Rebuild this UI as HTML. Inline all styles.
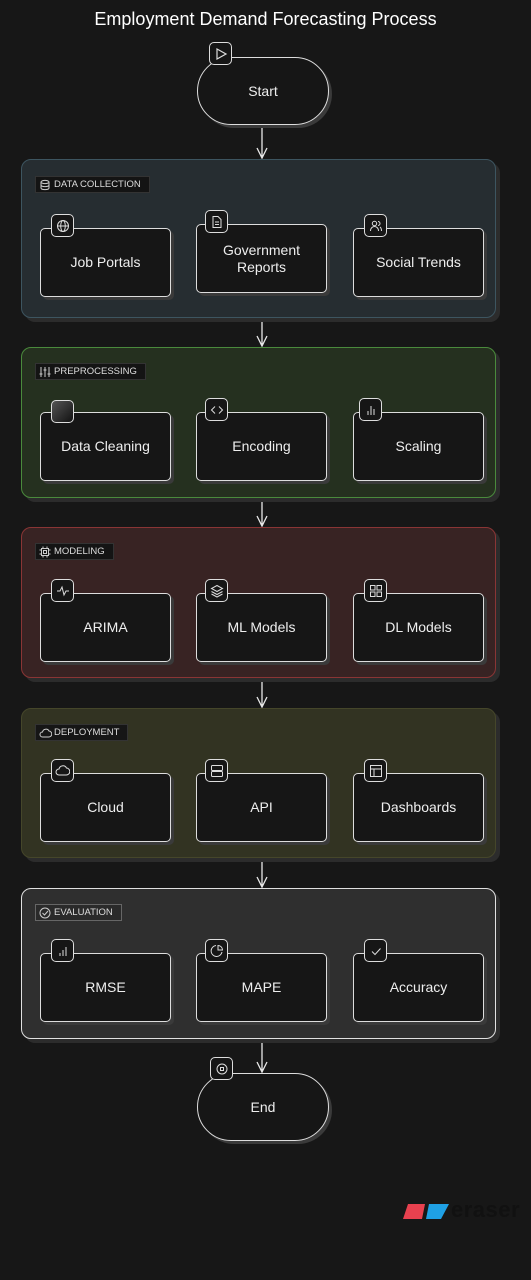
<!DOCTYPE html>
<html><head><meta charset="utf-8"><style>
*{box-sizing:border-box;margin:0;padding:0}
body{width:531px;height:1280px;background:#171717;position:relative;overflow:hidden;font-family:"Liberation Sans",sans-serif;color:#eee}
.t{position:absolute;left:0;width:531px;top:9px;text-align:center;font-size:18px;color:#fff}
.g{position:absolute;left:21px;width:475px;border-radius:10px;border:1px solid;box-shadow:4px 4px 0 #2c2c2c}
.tag{position:absolute;left:13px;top:16px;height:17px;font-size:9.5px;line-height:16px;padding:0 8px 0 18px;background:#141414;color:#ddd;border:1px solid #333}
.tag svg{position:absolute;left:3px;top:2px}
.n{position:absolute;width:131px;height:69px;border:1.5px solid #ddd;border-radius:5px;background:#161616;box-shadow:3px 3px 0 #3a3a3a;display:flex;align-items:center;justify-content:center;text-align:center;font-size:14px;color:#eee;line-height:17px}
.ic{position:absolute;width:23px;height:23px;border:1.5px solid #ddd;border-radius:5px;background:#161616;display:flex;align-items:center;justify-content:center}
.p{position:absolute;left:197px;width:132px;height:68px;border:1.5px solid #ddd;border-radius:34px;background:#161616;box-shadow:3px 3px 0 #3a3a3a;display:flex;align-items:center;justify-content:center;font-size:14px}
</style></head><body>
<div class="t">Employment Demand Forecasting Process</div>

<svg width="531" height="1280" style="position:absolute;left:0;top:0" fill="none" stroke="#e8e8e8" stroke-width="1.3">
<path d="M262 126V158M257 148L262 158L267 148"/>
<path d="M262 318V346M257 336L262 346L267 336"/>
<path d="M262 498V526M257 516L262 526L267 516"/>
<path d="M262 678V707M257 697L262 707L267 697"/>
<path d="M262 858V887M257 877L262 887L267 877"/>
<path d="M262 1039V1072M257 1062L262 1072L267 1062"/>
</svg>

<!-- Start -->
<div class="p" style="top:57px">Start</div>
<div class="ic" style="left:209px;top:42px"><svg width="14" height="14" viewBox="0 0 14 14" fill="none" stroke="#ddd" stroke-width="1.2"><path d="M3 2L12 7L3 12Z"/></svg></div>

<!-- Data collection -->
<div class="g" style="top:159px;height:159px;background:#262d31;border-color:#3d5560">
<div class="tag" style="top:16px"><svg width="12" height="12" viewBox="0 0 12 12" fill="none" stroke="#ccc"><ellipse cx="6" cy="3" rx="4" ry="1.6"/><path d="M2 3v6c0 1 2 1.6 4 1.6s4-.6 4-1.6V3M2 6c0 1 2 1.6 4 1.6s4-.6 4-1.6"/></svg>DATA COLLECTION</div>
</div>
<div class="n" style="left:40px;top:228px">Job Portals</div>
<div class="ic" style="left:51px;top:214px"><svg width="14" height="14" viewBox="0 0 14 14" fill="none" stroke="#ddd"><circle cx="7" cy="7" r="5.5"/><ellipse cx="7" cy="7" rx="2.3" ry="5.5"/><path d="M1.5 7h11"/></svg></div>
<div class="n" style="left:196px;top:224px">Government<br>Reports</div>
<div class="ic" style="left:205px;top:210px"><svg width="14" height="14" viewBox="0 0 14 14" fill="none" stroke="#ddd"><path d="M3 1.5h5l3 3v8H3z M5 7h4M5 9.5h4"/></svg></div>
<div class="n" style="left:353px;top:228px">Social Trends</div>
<div class="ic" style="left:364px;top:214px"><svg width="14" height="14" viewBox="0 0 14 14" fill="none" stroke="#ddd"><circle cx="5.5" cy="4.5" r="2.2"/><path d="M1.5 12c0-3 2-4.5 4-4.5s4 1.5 4 4.5M9 2.5a2 2 0 010 4M11 8c1 .8 1.5 2 1.5 4"/></svg></div>

<!-- Preprocessing -->
<div class="g" style="top:347px;height:151px;background:#25301f;border-color:#4a8a3c">
<div class="tag" style="top:15px"><svg width="12" height="12" viewBox="0 0 12 12" fill="none" stroke="#ccc"><path d="M2 1v10M6 1v10M10 1v10M0.5 8h3M4.5 4h3M8.5 8h3"/></svg>PREPROCESSING</div>
</div>
<div class="n" style="left:40px;top:412px">Data Cleaning</div>
<div class="ic" style="left:51px;top:400px;background:linear-gradient(135deg,#555,#111)"></div>
<div class="n" style="left:196px;top:412px">Encoding</div>
<div class="ic" style="left:205px;top:398px"><svg width="14" height="14" viewBox="0 0 14 14" fill="none" stroke="#ddd"><path d="M5 3.5L1.5 7L5 10.5M9 3.5L12.5 7L9 10.5"/></svg></div>
<div class="n" style="left:353px;top:412px">Scaling</div>
<div class="ic" style="left:359px;top:398px"><svg width="14" height="14" viewBox="0 0 14 14" fill="none" stroke="#ddd"><path d="M4 12V8M7 12V3M10 12V6"/></svg></div>

<!-- Modeling -->
<div class="g" style="top:527px;height:151px;background:#382323;border-color:#8a3535">
<div class="tag" style="top:15px"><svg width="12" height="12" viewBox="0 0 12 12" fill="none" stroke="#ccc"><rect x="2.5" y="2.5" width="7" height="7"/><rect x="4.5" y="4.5" width="3" height="3"/><path d="M4 0.5v2M8 0.5v2M4 9.5v2M8 9.5v2M0.5 4h2M0.5 8h2M9.5 4h2M9.5 8h2"/></svg>MODELING</div>
</div>
<div class="n" style="left:40px;top:593px">ARIMA</div>
<div class="ic" style="left:51px;top:579px"><svg width="14" height="14" viewBox="0 0 14 14" fill="none" stroke="#ddd"><path d="M1 7h3l2-4 2 8 2-4h3"/></svg></div>
<div class="n" style="left:196px;top:593px">ML Models</div>
<div class="ic" style="left:205px;top:579px"><svg width="14" height="14" viewBox="0 0 14 14" fill="none" stroke="#ddd"><path d="M7 1.5L12.5 4.5L7 7.5L1.5 4.5Z M1.5 7.5L7 10.5L12.5 7.5M1.5 10L7 13L12.5 10"/></svg></div>
<div class="n" style="left:353px;top:593px">DL Models</div>
<div class="ic" style="left:364px;top:579px"><svg width="14" height="14" viewBox="0 0 14 14" fill="none" stroke="#ddd"><rect x="1.5" y="1.5" width="4.5" height="4.5"/><rect x="8" y="1.5" width="4.5" height="4.5"/><rect x="1.5" y="8" width="4.5" height="4.5"/><rect x="8" y="8" width="4.5" height="4.5"/></svg></div>

<!-- Deployment -->
<div class="g" style="top:708px;height:150px;background:#323322;border-color:#45462a">
<div class="tag" style="top:15px;background:#161616"><svg width="13" height="12" viewBox="0 0 13 12" fill="none" stroke="#ccc"><path d="M3.5 10a2.5 2.5 0 010-5 3.5 3.5 0 016.5-1 3 3 0 01-.5 6z"/></svg>DEPLOYMENT</div>
</div>
<div class="n" style="left:40px;top:773px">Cloud</div>
<div class="ic" style="left:51px;top:759px"><svg width="15" height="14" viewBox="0 0 15 14" fill="none" stroke="#ddd"><path d="M4 11a3 3 0 010-6 4 4 0 017.5-1 3.5 3.5 0 01-.5 7z"/></svg></div>
<div class="n" style="left:196px;top:773px">API</div>
<div class="ic" style="left:205px;top:759px"><svg width="14" height="14" viewBox="0 0 14 14" fill="none" stroke="#ddd"><rect x="1.5" y="1.5" width="11" height="5" rx="1"/><rect x="1.5" y="7.5" width="11" height="5" rx="1"/></svg></div>
<div class="n" style="left:353px;top:773px">Dashboards</div>
<div class="ic" style="left:364px;top:759px"><svg width="14" height="14" viewBox="0 0 14 14" fill="none" stroke="#ddd"><rect x="1.5" y="1.5" width="11" height="11"/><path d="M1.5 5h11M5 5v7.5"/></svg></div>

<!-- Evaluation -->
<div class="g" style="top:888px;height:151px;background:#2f2f2f;border-color:#e0e0e0">
<div class="tag" style="top:15px;background:#2a2a2a;border-color:#666"><svg width="12" height="12" viewBox="0 0 12 12" fill="none" stroke="#ccc"><circle cx="6" cy="6" r="5"/><path d="M3.5 6l2 2 3.5-4"/></svg>EVALUATION</div>
</div>
<div class="n" style="left:40px;top:953px">RMSE</div>
<div class="ic" style="left:51px;top:939px"><svg width="14" height="14" viewBox="0 0 14 14" fill="none" stroke="#ddd"><path d="M4 12V9M7 12V6M10 12V3"/></svg></div>
<div class="n" style="left:196px;top:953px">MAPE</div>
<div class="ic" style="left:205px;top:939px"><svg width="14" height="14" viewBox="0 0 14 14" fill="none" stroke="#ddd"><path d="M12 8A5.5 5.5 0 116 1.5"/><path d="M8 1.5A4.5 4.5 0 0112.5 6H8z"/></svg></div>
<div class="n" style="left:353px;top:953px">Accuracy</div>
<div class="ic" style="left:364px;top:939px"><svg width="14" height="14" viewBox="0 0 14 14" fill="none" stroke="#ddd"><path d="M3 7.5l3 3 5.5-6"/></svg></div>

<!-- End -->
<div class="p" style="top:1073px">End</div>
<div class="ic" style="left:210px;top:1057px"><svg width="14" height="14" viewBox="0 0 14 14" fill="none" stroke="#ddd"><circle cx="7" cy="7" r="5"/><rect x="5.5" y="5.5" width="3" height="3"/></svg></div>

<!-- logo -->
<svg style="position:absolute;left:403px;top:1203px" width="46" height="18"><path d="M5 1H22L19 16H0Z" fill="#e8414f"/><path d="M26 1H46L38 16H23Z" fill="#1fa0e4"/></svg>
<div style="position:absolute;left:451px;top:1197px;font-size:22px;color:#111;font-weight:bold;letter-spacing:0.5px">eraser</div>
</body></html>
